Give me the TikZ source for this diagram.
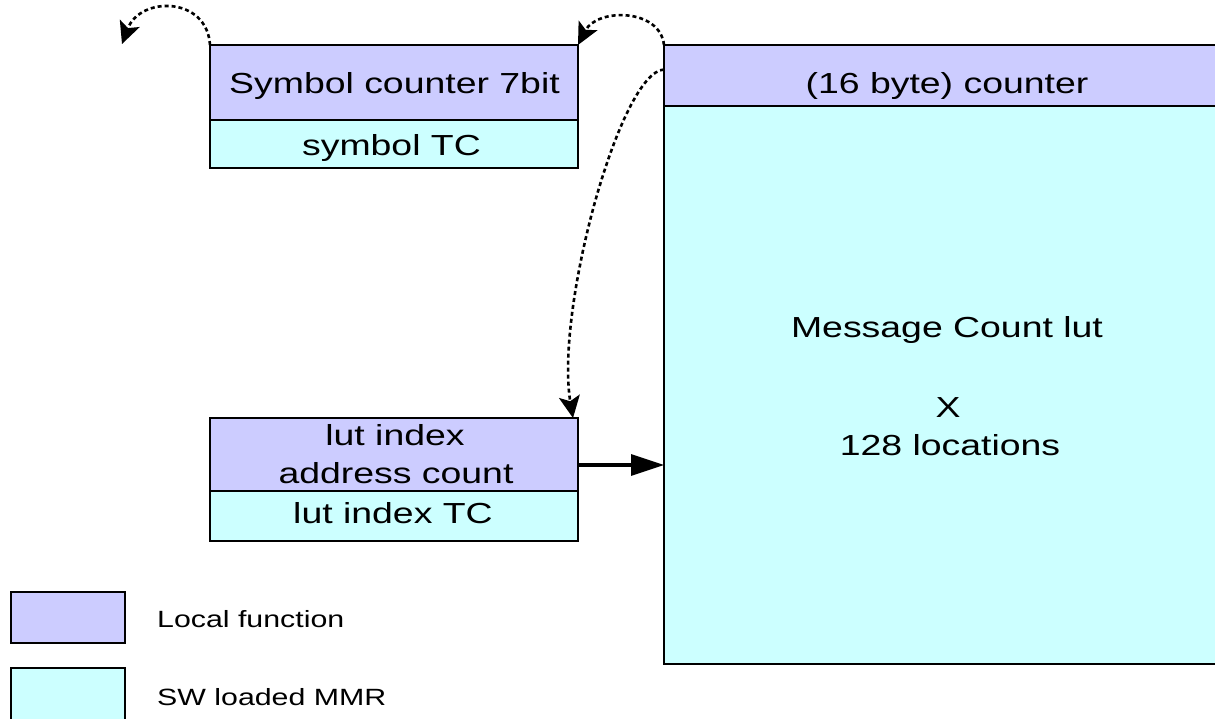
\documentclass[tikz,border=0pt]{standalone}
\usepackage{fontspec}
\setmainfont[FakeStretch=1.29]{Liberation Sans}
\usetikzlibrary{arrows.meta}
\definecolor{localfn}{HTML}{CCCCFF}
\definecolor{swmmr}{HTML}{CCFFFF}
\tikzset{
  blk/.style={draw=black, line width=1.8pt, inner sep=0pt, outer sep=0pt},
  fnbox/.style={blk, fill=localfn},
  mmrbox/.style={blk, fill=swmmr},
  lbl/.style={anchor=base, inner sep=0pt, font=\fontsize{29}{34}\selectfont},
  leg/.style={anchor=base west, inner sep=0pt, font=\fontsize{23.5}{28}\selectfont},
  dotarrow/.style={line width=2.6pt, dash pattern=on 4pt off 3pt,
    -{Stealth[length=22pt, width=21pt, inset=5pt]}},
  solidarrow/.style={line width=3.2pt, -{Triangle[length=33pt, width=21pt]}},
}
\begin{document}
\begin{tikzpicture}[x=1pt, y=-1pt]
  \useasboundingbox (0,0) rectangle (1215,718);

  % symbol counter block
  \node[mmrbox, minimum width=368pt, minimum height=48pt] (symtc) at (394,144) {};
  \node[fnbox, minimum width=368pt, minimum height=75pt] (sym) at (394,82.5) {};
  \node[lbl] (symtxt) at (394.5,93) {Symbol counter 7bit};
  \node[lbl] (symtctxt) at (391.5,155) {symbol TC};

  % message count lookup table
  \node[mmrbox, minimum width=566pt, minimum height=558pt] (msg) at (947,385) {};
  \node[fnbox, minimum width=566pt, minimum height=61pt] (hdr) at (947,75.5) {};
  \node[lbl] (hdrtxt) at (947,93) {(16 byte) counter};
  \node[lbl] (msgtxt) at (947,337) {Message Count lut};
  \node[lbl] (xtxt) at (948,417) {X};
  \node[lbl] (loctxt) at (950,455) {128 locations};

  % lut index block
  \node[mmrbox, minimum width=368pt, minimum height=50pt] (luttc) at (394,516) {};
  \node[fnbox, minimum width=368pt, minimum height=73pt] (lut) at (394,454.5) {};
  \node[lbl] (luttxta) at (395,445) {lut index};
  \node[lbl] (luttxtb) at (396,483) {address count};
  \node[lbl] (luttctxt) at (393,523) {lut index TC};

  % legend
  \node[fnbox, minimum width=114pt, minimum height=51pt] (legfn) at (68,617.5) {};
  \node[mmrbox, minimum width=114pt, minimum height=57pt] (legmmr) at (68,696.5) {};
  \node[leg] (legfntxt) at (157,627) {Local function};
  \node[leg] (legmmrtxt) at (157,705) {SW loaded MMR};

  % connectors
  \coordinate (wrapout) at (122,44);
  \draw[dotarrow] (sym.north west) .. controls (207,-4) and (140,-4) .. (wrapout);
  \draw[dotarrow] (hdr.north west) .. controls (660,8) and (597,8) .. (sym.north east);
  \draw[dotarrow] ([yshift=6pt]hdr.west) .. controls (620,72) and (555,310) .. ([xshift=-5pt]lut.north east);
  \coordinate (feedy) at (0,465);
  \draw[solidarrow] (lut.east |- feedy) -- (msg.west |- feedy);
\end{tikzpicture}
\end{document}
